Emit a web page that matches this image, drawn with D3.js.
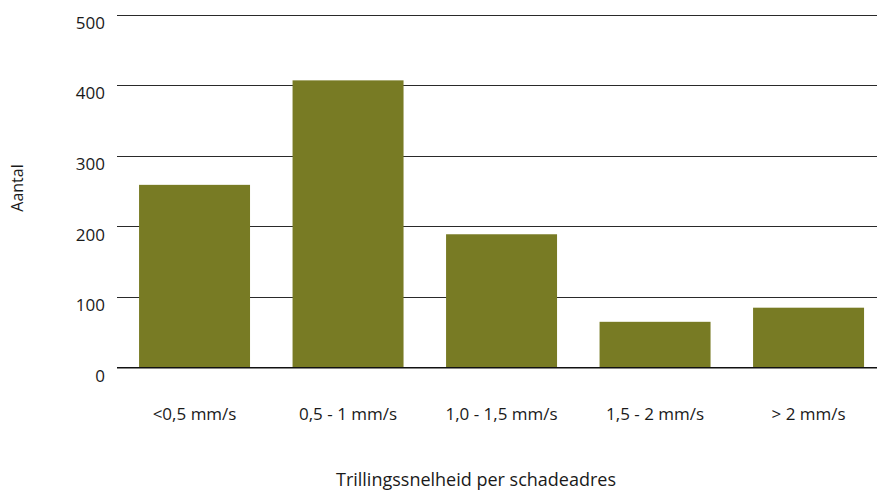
<!DOCTYPE html>
<html>
<head>
<meta charset="utf-8">
<script src="https://cdn.jsdelivr.net/npm/d3@7"></script>
<style>
  html, body { margin: 0; padding: 0; background: #fff; }
  svg { display: block; }
  text { font-family: "Open Sans", "Noto Sans", sans-serif; fill: #1a1a1a; }
</style>
</head>
<body>
<svg id="chart" width="877" height="490"></svg>
<script>
const categories = ["<0,5 mm/s", "0,5 - 1 mm/s", "1,0 - 1,5 mm/s", "1,5 - 2 mm/s", "> 2 mm/s"];
const values = [259, 407, 189, 65, 85];
const yTicks = [0, 100, 200, 300, 400, 500];
const yTitle = "Aantal";
const xTitle = "Trillingssnelheid per schadeadres";

const svg = d3.select("#chart");
const mLeft = 117, mRight = 877, mTop = 14.7, mBottom = 367.7;

const x = d3.scaleBand()
  .domain(categories)
  .range([mLeft, mRight])
  .paddingInner(0.277)
  .paddingOuter(0.114)
  .align(0.63);

const y = d3.scaleLinear().domain([0, 500]).range([mBottom, mTop]);

// gridlines
svg.append("g")
  .selectAll("line")
  .data(yTicks.filter(d => d !== 0))
  .join("line")
  .attr("x1", mLeft).attr("x2", mRight)
  .attr("y1", d => Math.round(y(d)) + 0.5).attr("y2", d => Math.round(y(d)) + 0.5)
  .attr("stroke", "#2a2a2a").attr("stroke-width", 1);

// bars
svg.append("g")
  .selectAll("rect")
  .data(values)
  .join("rect")
  .attr("x", (d, i) => x(categories[i]))
  .attr("width", x.bandwidth())
  .attr("y", d => y(d))
  .attr("height", d => y(0) - y(d))
  .attr("fill", "#787B24");

// baseline
svg.append("line")
  .attr("x1", mLeft).attr("x2", mRight)
  .attr("y1", y(0)).attr("y2", y(0))
  .attr("stroke", "#111").attr("stroke-width", 1.6);

// y axis labels
const yAxis = d3.axisLeft(y).tickValues(yTicks).tickSize(0).tickPadding(12);
const yg = svg.append("g").attr("transform", `translate(${mLeft},0)`).call(yAxis);
yg.select(".domain").remove();
yg.selectAll("text")
  .attr("font-size", 17)
  .attr("dy", "0.8em")
  .style("fill", "#1a1a1a")
  .style("font-family", "'Open Sans', sans-serif");

// x axis labels
const xAxis = d3.axisBottom(x).tickSize(0).tickPadding(40);
const xg = svg.append("g").attr("transform", `translate(0,${mBottom})`).call(xAxis);
xg.select(".domain").remove();
xg.selectAll("text")
  .attr("font-size", 17)
  .style("fill", "#1a1a1a")
  .style("font-family", "'Open Sans', sans-serif");

// axis titles
svg.append("text")
  .attr("transform", "translate(23,188) rotate(-90)")
  .attr("text-anchor", "middle")
  .attr("font-size", 16)
  .text(yTitle);

svg.append("text")
  .attr("x", 476).attr("y", 486)
  .attr("text-anchor", "middle")
  .attr("font-size", 18)
  .text(xTitle);
</script>
</body>
</html>
